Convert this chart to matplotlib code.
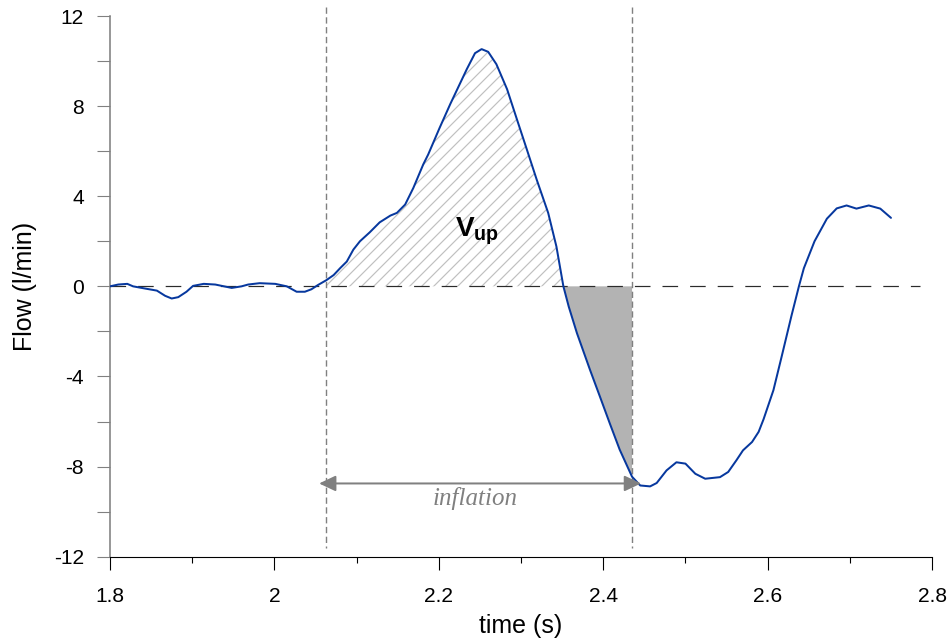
import numpy as np
import matplotlib
matplotlib.use("Agg")
import matplotlib.pyplot as plt

plt.rcParams['font.family'] = ['Liberation Sans', 'DejaVu Sans']
plt.rcParams['mathtext.fontset'] = 'custom'
plt.rcParams['mathtext.bf'] = 'Liberation Sans:bold'
plt.rcParams['mathtext.rm'] = 'Liberation Sans'
plt.rcParams['hatch.linewidth'] = 1.2
plt.rcParams['axes.unicode_minus'] = False

# flow trace (time in s, flow in l/min)
time = np.array([
    1.800, 1.810, 1.821, 1.828, 1.843, 1.857, 1.867, 1.875, 1.883, 1.893,
    1.901, 1.914, 1.928, 1.948, 1.960, 1.968, 1.982, 2.001, 2.015, 2.027,
    2.037, 2.045, 2.053, 2.063, 2.072, 2.080, 2.088, 2.096, 2.104, 2.116,
    2.128, 2.141, 2.149, 2.159, 2.169, 2.181, 2.187, 2.201, 2.214, 2.234,
    2.244, 2.252, 2.260, 2.270, 2.283, 2.295, 2.307, 2.319, 2.333, 2.343,
    2.3515, 2.358, 2.368, 2.384, 2.396, 2.408, 2.420, 2.435, 2.445, 2.457,
    2.465, 2.477, 2.489, 2.500, 2.512, 2.524, 2.542, 2.552, 2.562, 2.570,
    2.581, 2.589, 2.595, 2.607, 2.617, 2.629, 2.638, 2.644, 2.657, 2.672,
    2.684, 2.696, 2.708, 2.723, 2.737, 2.750,
])
flow = np.array([
    0.00, 0.08, 0.11, 0.00, -0.10, -0.19, -0.42, -0.54, -0.48, -0.24,
    0.02, 0.11, 0.08, -0.07, 0.00, 0.08, 0.14, 0.11, 0.00, -0.24,
    -0.24, -0.13, 0.06, 0.27, 0.50, 0.81, 1.10, 1.63, 2.00, 2.40,
    2.84, 3.14, 3.26, 3.63, 4.37, 5.41, 5.85, 7.04, 8.10, 9.64,
    10.35, 10.53, 10.41, 9.86, 8.75, 7.41, 6.08, 4.74, 3.26, 1.77,
    0.00, -0.90, -2.08, -3.72, -4.90, -6.09, -7.25, -8.45, -8.84, -8.88,
    -8.73, -8.17, -7.81, -7.87, -8.32, -8.54, -8.47, -8.24, -7.72, -7.28,
    -6.91, -6.46, -5.90, -4.61, -3.12, -1.30, 0.00, 0.80, 2.00, 3.00,
    3.46, 3.59, 3.45, 3.59, 3.45, 3.04,
])

t_in = 2.063      # start of inflation
t_zero = 2.3515   # flow crosses zero
t_out = 2.435     # end of inflation

xticks = [1.8, 2.0, 2.2, 2.4, 2.6, 2.8]
xticklabels = ['1.8', '2', '2.2', '2.4', '2.6', '2.8']
yticks = [-12, -8, -4, 0, 4, 8, 12]

fig = plt.figure(figsize=(951 / 72, 640 / 72), dpi=72)
ax = fig.add_axes([0.1157, 0.1302, 0.8644, 0.8448])

# shaded areas
up = (time >= t_in - 1e-9) & (time <= t_zero + 1e-9)
down = (time >= t_zero - 1e-9) & (time <= t_out + 1e-9)
ax.fill_between(time, flow, 0, where=up, facecolor='white',
                edgecolor='#c0c0c0', hatch='//', linewidth=0, zorder=1)
ax.fill_between(time, flow, 0, where=down, facecolor='#b3b3b3',
                edgecolor='none', linewidth=0, zorder=1)

# zero line
ax.plot([1.8, 2.785], [0, 0], color='#2b2b2b', lw=1.2,
        dashes=(13, 10), zorder=2)

ax.plot(time, flow, color='#07389e', lw=2.0, zorder=3,
        solid_joinstyle='round', solid_capstyle='round')

# inflation markers
for tv in (t_in, t_out):
    ax.plot([tv, tv], [12.4, -11.6], color='#808080', lw=1.4,
            dashes=(4.5, 2.5), clip_on=False, zorder=2)

ax.annotate('', xy=(2.0543, -8.75), xytext=(2.446, -8.75),
            arrowprops=dict(arrowstyle='<|-|>,head_length=0.7,head_width=0.33',
                            color='#808080', lw=2, mutation_scale=20,
                            shrinkA=0, shrinkB=0), zorder=4)
ax.text(2.2436, -9.43, 'inflation', family='Liberation Serif', style='italic',
        fontsize=25, color='#808080', ha='center', va='center')

ax.text(2.2465, 2.22, r'$\mathbf{V}_{\mathbf{up}}$', fontsize=28,
        ha='center', va='baseline', color='black', zorder=5)

ax.set_xlim(1.8, 2.8)
ax.set_ylim(-12, 12)
ax.set_xticks(xticks)
ax.set_xticklabels(xticklabels)
ax.set_xticks(np.arange(1.9, 2.8, 0.2), minor=True)
ax.set_yticks(yticks)
ax.set_yticks(np.arange(-10, 11, 4), minor=True)

ax.spines['top'].set_visible(False)
ax.spines['right'].set_visible(False)
ax.spines['left'].set_color('#808080')
ax.spines['left'].set_linewidth(1.6)
ax.spines['bottom'].set_color('black')
ax.spines['bottom'].set_linewidth(1.1)

ax.tick_params(axis='x', which='major', length=13, width=1.1, color='black',
               labelsize=21, pad=17)
ax.tick_params(axis='x', which='minor', length=6, width=1.1, color='black')
ax.tick_params(axis='y', which='both', length=13, width=1.1, color='#808080',
               labelsize=21, pad=13)

ax.set_xlabel('time (s)', fontsize=25, labelpad=8)
ax.set_ylabel('Flow (l/min)', fontsize=25, labelpad=17)

fig.savefig('out.png', dpi=72)
